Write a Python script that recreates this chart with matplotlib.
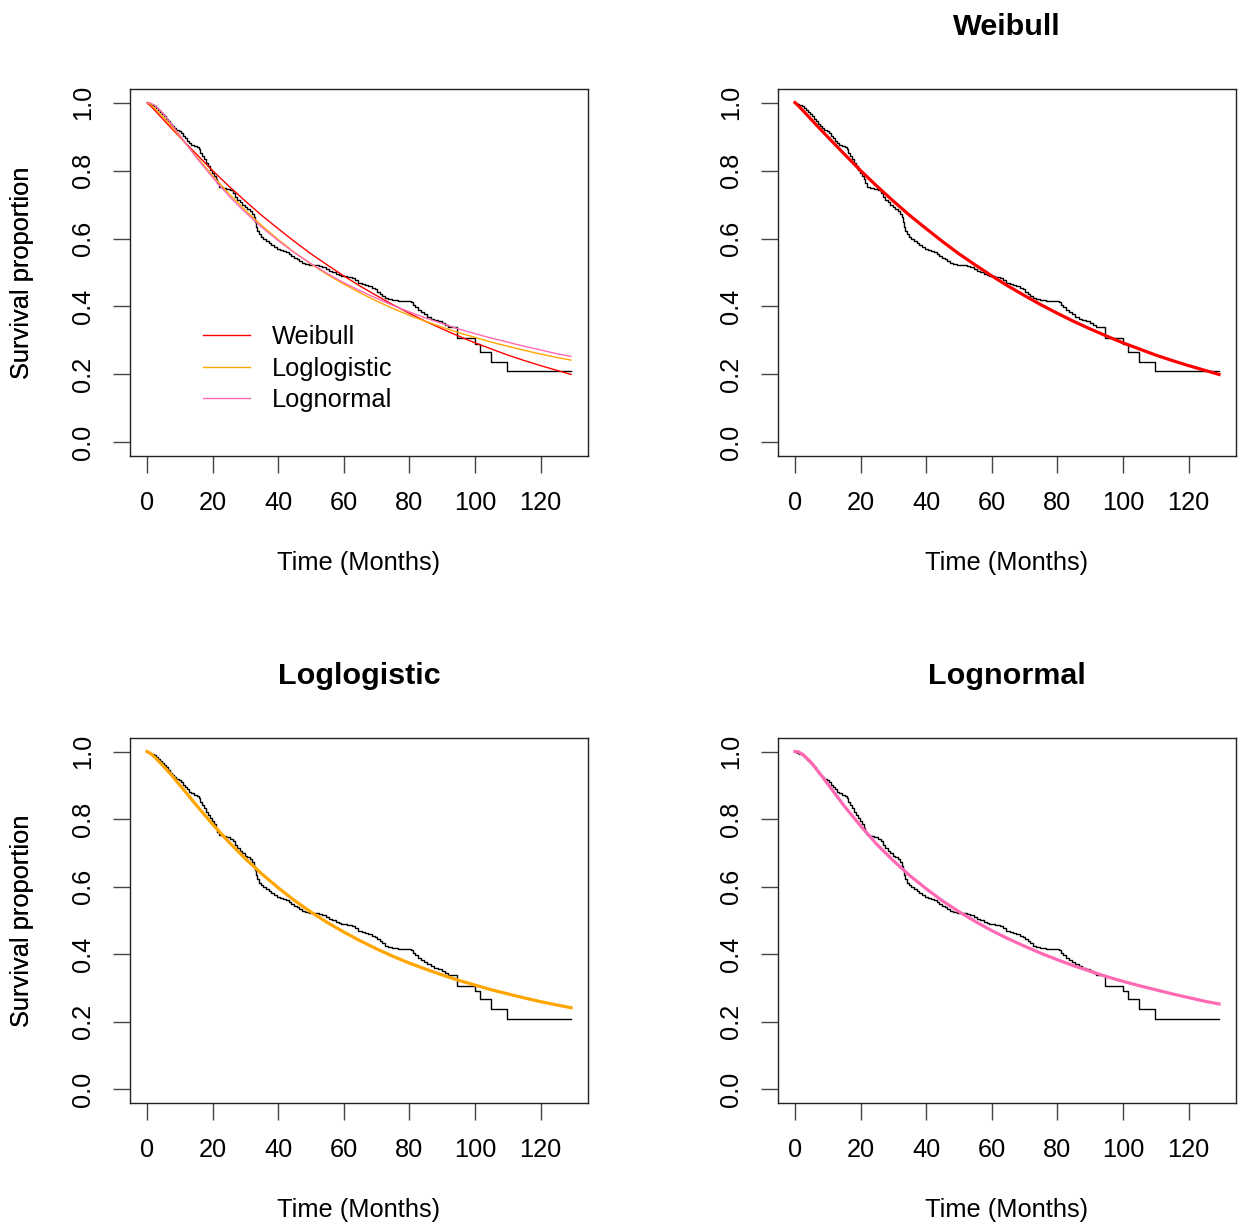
import matplotlib
matplotlib.use("Agg")
import matplotlib.pyplot as plt
from matplotlib.ticker import FixedLocator, FixedFormatter

plt.rcParams['font.family'] = ['Liberation Sans', 'DejaVu Sans']

# Kaplan-Meier estimate (step times and survival after each step)
km_time = [0, 0.5, 1.2, 2.0, 2.7, 3.3, 4.0, 4.6, 5.2, 5.8, 6.4, 7.0, 7.6, 8.3, 9.0,
           9.7, 10.4, 11.0, 11.6, 12.2, 12.8, 13.5, 14.3, 15.2, 15.8, 16.3, 16.8,
           17.4, 18.0, 18.6, 19.2, 19.8, 20.4, 20.9, 21.4, 21.9, 23.0, 24.2, 25.4,
           26.2, 26.8, 27.5, 28.3, 29.1, 29.9, 30.6, 31.4, 32.0, 32.5, 32.9, 33.2,
           33.6, 34.2, 34.8, 35.5, 36.3, 37.1, 37.9, 38.7, 39.5, 40.5, 41.5, 42.5,
           43.2, 44.0, 44.8, 45.6, 46.4, 47.2, 48.2, 49.5, 51.0, 52.5, 53.5, 54.5,
           55.5, 56.5, 57.5, 58.5, 59.3, 61.0, 62.5, 63.3, 64.3, 65.5, 66.6, 67.4,
           68.5, 69.5, 70.2, 71.0, 71.8, 72.6, 73.6, 74.8, 76.5, 78.5, 80.6, 81.2,
           81.8, 82.6, 83.5, 84.5, 85.5, 86.5, 87.5, 88.8, 90.0, 91.0, 91.8, 94.5,
           100.0, 101.5, 105.0, 109.7, 129.3]
km_surv = [1.0, 0.997, 0.993, 0.990, 0.985, 0.979, 0.973, 0.967, 0.961, 0.953, 0.945,
           0.936, 0.930, 0.925, 0.920, 0.915, 0.910, 0.902, 0.895, 0.888, 0.881,
           0.876, 0.872, 0.868, 0.862, 0.852, 0.843, 0.833, 0.822, 0.812, 0.802,
           0.794, 0.785, 0.774, 0.762, 0.752, 0.749, 0.746, 0.742, 0.735, 0.722,
           0.714, 0.707, 0.700, 0.692, 0.687, 0.682, 0.672, 0.662, 0.648, 0.635,
           0.622, 0.612, 0.604, 0.598, 0.592, 0.586, 0.580, 0.575, 0.570, 0.567,
           0.564, 0.561, 0.555, 0.549, 0.544, 0.539, 0.534, 0.529, 0.526, 0.523,
           0.521, 0.519, 0.516, 0.511, 0.505, 0.501, 0.497, 0.493, 0.489, 0.487,
           0.484, 0.477, 0.470, 0.467, 0.464, 0.459, 0.455, 0.450, 0.444, 0.438,
           0.432, 0.426, 0.421, 0.418, 0.416, 0.415, 0.413, 0.405, 0.398, 0.390,
           0.383, 0.377, 0.370, 0.364, 0.360, 0.356, 0.350, 0.345, 0.340, 0.306,
           0.291, 0.267, 0.237, 0.209, 0.209]

# Fitted survival curves read at these times
fit_time = [0, 1, 2.5, 5, 7.5, 10, 15, 20, 25, 30, 35, 40, 45, 50, 55, 60, 65, 70,
            75, 80, 85, 90, 95, 100, 105, 110, 115, 120, 125, 129.3]
weibull = [1.0, 0.991, 0.976, 0.950, 0.924, 0.899, 0.849, 0.800, 0.754, 0.710,
           0.668, 0.629, 0.591, 0.555, 0.522, 0.490, 0.460, 0.432, 0.405, 0.380,
           0.356, 0.334, 0.313, 0.293, 0.275, 0.257, 0.241, 0.226, 0.212, 0.200]
loglogistic = [1.0, 0.995, 0.982, 0.957, 0.930, 0.901, 0.842, 0.785, 0.732, 0.683,
               0.638, 0.597, 0.559, 0.525, 0.494, 0.466, 0.440, 0.416, 0.394, 0.374,
               0.356, 0.339, 0.323, 0.309, 0.295, 0.283, 0.271, 0.260, 0.250, 0.242]
lognormal = [1.0, 0.999, 0.991, 0.967, 0.936, 0.904, 0.839, 0.780, 0.725, 0.677,
             0.633, 0.594, 0.558, 0.526, 0.497, 0.470, 0.446, 0.424, 0.403, 0.384,
             0.366, 0.350, 0.334, 0.320, 0.307, 0.295, 0.283, 0.272, 0.261, 0.253]

model_names = ["Weibull", "Loglogistic", "Lognormal"]
model_colors = ["#FF0000", "#FFA500", "#FF69B4"]
model_values = [weibull, loglogistic, lognormal]

x_ticks = [0, 20, 40, 60, 80, 100, 120]
y_ticks = [0.0, 0.2, 0.4, 0.6, 0.8, 1.0]
y_tick_labels = ["0.0", "0.2", "0.4", "0.6", "0.8", "1.0"]

W, H = 1238, 1228
fig = plt.figure(figsize=(W / 100, H / 100), dpi=100)

FS = 18.3
boxes = [(130, 89, 588, 456), (778, 89, 1236, 456),
         (130, 738, 588, 1103), (778, 738, 1236, 1103)]
axes = []
for (l, t, r, b) in boxes:
    ax = fig.add_axes([l / W, 1 - b / H, (r - l) / W, (b - t) / H])
    axes.append(ax)


def style(ax, box):
    l, t, r, b = box
    ax.set_xlim(-5.17, 134.47)
    ax.set_ylim(-0.04, 1.04)
    ax.xaxis.set_major_locator(FixedLocator(x_ticks))
    ax.yaxis.set_major_locator(FixedLocator(y_ticks))
    ax.yaxis.set_major_formatter(FixedFormatter(y_tick_labels))
    for s in ax.spines.values():
        s.set_linewidth(1.0)
        s.set_color("#222222")
    ax.tick_params(axis='both', length=12.2, width=1.0, color="#444444",
                   labelsize=FS, direction='out')
    ax.tick_params(axis='x', pad=13)
    ax.tick_params(axis='y', pad=13)
    for lab in ax.get_yticklabels():
        lab.set_rotation(90)
        lab.set_va('center')
        lab.set_ha('right')
    ax.set_xlabel("Time (Months)", fontsize=FS)
    ax.xaxis.set_label_coords(0.5, -107 / (b - t))
    ax.xaxis.label.set_va('center')
    ax.set_ylabel("Survival proportion", fontsize=FS)
    ax.yaxis.set_label_coords(-(l - 22) / (r - l), 0.5)
    ax.yaxis.label.set_va('center')


# Panel 1: all models
ax = axes[0]
ax.step(km_time, km_surv, where='post', color='black', lw=1.0)
for name, col, vals in zip(model_names, model_colors, model_values):
    ax.plot(fit_time, vals, color=col, lw=1.0, label=name)
style(ax, boxes[0])
leg = ax.legend(loc='upper left', bbox_to_anchor=(203 / W, 1 - 325 / H),
                bbox_transform=fig.transFigure, frameon=False, fontsize=FS,
                handlelength=1.85, handletextpad=0.85, labelspacing=0.3,
                borderpad=0, borderaxespad=0)

# Panels 2-4: individual models
for i, (name, col, vals) in enumerate(zip(model_names, model_colors, model_values)):
    ax = axes[i + 1]
    ax.step(km_time, km_surv, where='post', color='black', lw=1.0)
    ax.plot(fit_time, vals, color=col, lw=2.3)
    style(ax, boxes[i + 1])
    l, t, r, b = boxes[i + 1]
    ax.text(0.5, 1 + 62 / (b - t), name, transform=ax.transAxes, ha='center',
            va='center', fontsize=FS * 1.2, fontweight='bold')

fig.savefig("out.png", dpi=100)
